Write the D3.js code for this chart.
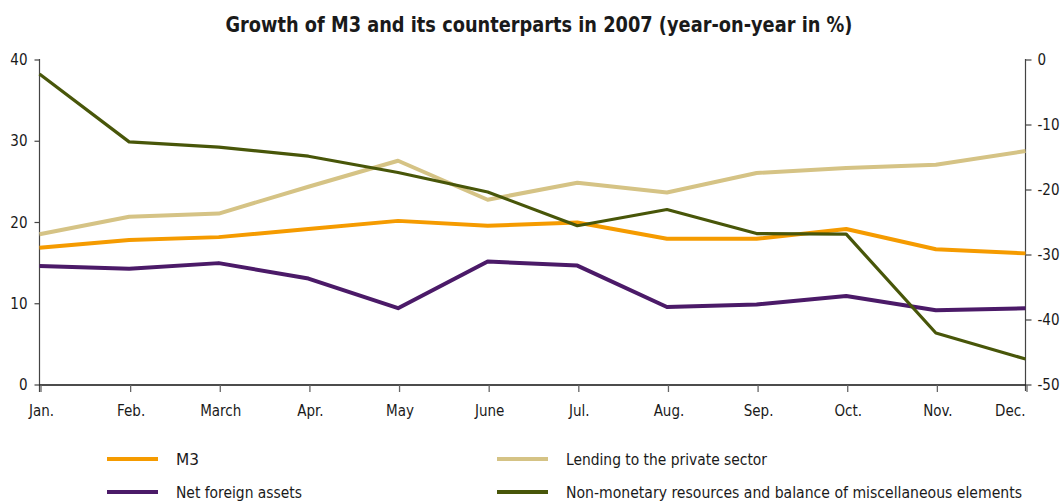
<!DOCTYPE html>
<html>
<head>
<meta charset="utf-8">
<script src="https://cdn.jsdelivr.net/npm/d3@7"></script>
<style>
  html, body { margin: 0; padding: 0; background: #fff; }
  svg { display: block; }
  text { font-family: "Liberation Sans Narrow", "DejaVu Sans Condensed", "Roboto", sans-serif; fill: #1a1a1a; }
</style>
</head>
<body>
<svg id="chart" width="1063" height="503"></svg>
<script>
// Months of 2007
const months = ["Jan.", "Feb.", "March", "Apr.", "May", "June", "Jul.", "Aug.", "Sep.", "Oct.", "Nov.", "Dec."];

// Year-on-year growth, % (left axis)
const m3 = [16.9, 17.85, 18.2, 19.2, 20.2, 19.6, 20.0, 18.0, 18.0, 19.2, 16.7, 16.2];
const lending = [18.55, 20.7, 21.1, 24.4, 27.6, 22.8, 24.9, 23.7, 26.1, 26.7, 27.1, 28.8];
const netForeign = [14.65, 14.3, 15.0, 13.1, 9.45, 15.2, 14.7, 9.6, 9.9, 10.95, 9.2, 9.45];

// Year-on-year growth, % (right axis)
const nonMonetary = [-2.15, -12.6, -13.4, -14.8, -17.3, -20.3, -25.5, -23.0, -26.7, -26.8, -42.0, -46.0];

// Axis ticks
const leftTicks = [0, 10, 20, 30, 40];
const rightTicks = [0, -10, -20, -30, -40, -50];

const title = "Growth of M3 and its counterparts in 2007 (year-on-year in %)";

const seriesNames = {
  m3: "M3",
  lending: "Lending to the private sector",
  netForeign: "Net foreign assets",
  nonMonetary: "Non-monetary resources and balance of miscellaneous elements"
};

const svg = d3.select("#chart");

const x = d3.scalePoint().domain(months).range([39.5, 1025.5]);
const yL = d3.scaleLinear().domain([0, 40]).range([385, 60]);
const yR = d3.scaleLinear().domain([-50, 0]).range([385, 60]);

// Title
svg.append("text")
  .attr("x", 539).attr("y", 32)
  .attr("text-anchor", "middle")
  .attr("font-size", 21).attr("font-weight", "bold")
  .attr("textLength", 627).attr("lengthAdjust", "spacingAndGlyphs")
  .text(title);

// Left axis
const gL = svg.append("g").attr("transform", "translate(39.5,0)");
gL.append("line").attr("y1", 59).attr("y2", 392).attr("stroke", "#444").attr("stroke-width", 1.2);
gL.selectAll(".t").data(leftTicks).join("line")
  .attr("x1", -5).attr("x2", 0)
  .attr("y1", d => yL(d)).attr("y2", d => yL(d))
  .attr("stroke", "#444").attr("stroke-width", 1.2);
gL.selectAll(".l").data(leftTicks).join("text")
  .attr("x", -12).attr("y", d => yL(d) + 5)
  .attr("text-anchor", "end").attr("font-size", 15)
  .text(d => d);

// Right axis
const gR = svg.append("g").attr("transform", "translate(1025.5,0)");
gR.append("line").attr("y1", 59).attr("y2", 391).attr("stroke", "#444").attr("stroke-width", 1.2);
gR.selectAll(".t").data(rightTicks).join("line")
  .attr("x1", 0).attr("x2", 6)
  .attr("y1", d => yR(d)).attr("y2", d => yR(d))
  .attr("stroke", "#444").attr("stroke-width", 1.2);
gR.selectAll(".l").data(rightTicks).join("text")
  .attr("x", 12).attr("y", d => yR(d) + 5)
  .attr("text-anchor", "start").attr("font-size", 15)
  .text(d => d);

// Bottom axis
const gX = svg.append("g");
gX.append("line").attr("x1", 39.5).attr("x2", 1025.5).attr("y1", 385).attr("y2", 385)
  .attr("stroke", "#111").attr("stroke-width", 1.5);
gX.selectAll(".t").data(months).join("line")
  .attr("x1", d => x(d) + 1.5).attr("x2", d => x(d) + 1.5)
  .attr("y1", 385).attr("y2", 392)
  .attr("stroke", "#666").attr("stroke-width", 1.3);
gX.selectAll(".l").data(months).join("text")
  .attr("x", (d, i) => i === months.length - 1 ? x(d) : x(d) + 2)
  .attr("y", 416)
  .attr("text-anchor", (d, i) => i === months.length - 1 ? "end" : "middle")
  .attr("font-size", 15)
  .text(d => d);

// Lines
const series = [
  { key: "lending", values: lending, y: yL, color: "#d5c385", width: 4 },
  { key: "m3", values: m3, y: yL, color: "#f59b00", width: 4 },
  { key: "netForeign", values: netForeign, y: yL, color: "#4b1a68", width: 4 },
  { key: "nonMonetary", values: nonMonetary, y: yR, color: "#485609", width: 3.2 }
];

series.forEach(s => {
  const line = d3.line()
    .x((d, i) => x(months[i]))
    .y(d => s.y(d));
  svg.append("path")
    .datum(s.values)
    .attr("fill", "none")
    .attr("stroke", s.color)
    .attr("stroke-width", s.width)
    .attr("stroke-linejoin", "round")
    .attr("d", line);
});

// Legend
const legendItems = [
  { key: "m3", x: 107, y: 459, color: "#f59b00" },
  { key: "lending", x: 497, y: 459, color: "#d5c385" },
  { key: "netForeign", x: 107, y: 492, color: "#4b1a68" },
  { key: "nonMonetary", x: 497, y: 492, color: "#485609" }
];
const legendWidths = { m3: 23, lending: 201, netForeign: 126, nonMonetary: 456 };

const gLeg = svg.append("g");
legendItems.forEach(it => {
  gLeg.append("line")
    .attr("x1", it.x).attr("x2", it.x + 51)
    .attr("y1", it.y).attr("y2", it.y)
    .attr("stroke", it.color).attr("stroke-width", 4);
  gLeg.append("text")
    .attr("x", it.x + 69).attr("y", it.y + 6)
    .attr("font-size", 16)
    .attr("textLength", legendWidths[it.key]).attr("lengthAdjust", "spacingAndGlyphs")
    .text(seriesNames[it.key]);
});
</script>
</body>
</html>
